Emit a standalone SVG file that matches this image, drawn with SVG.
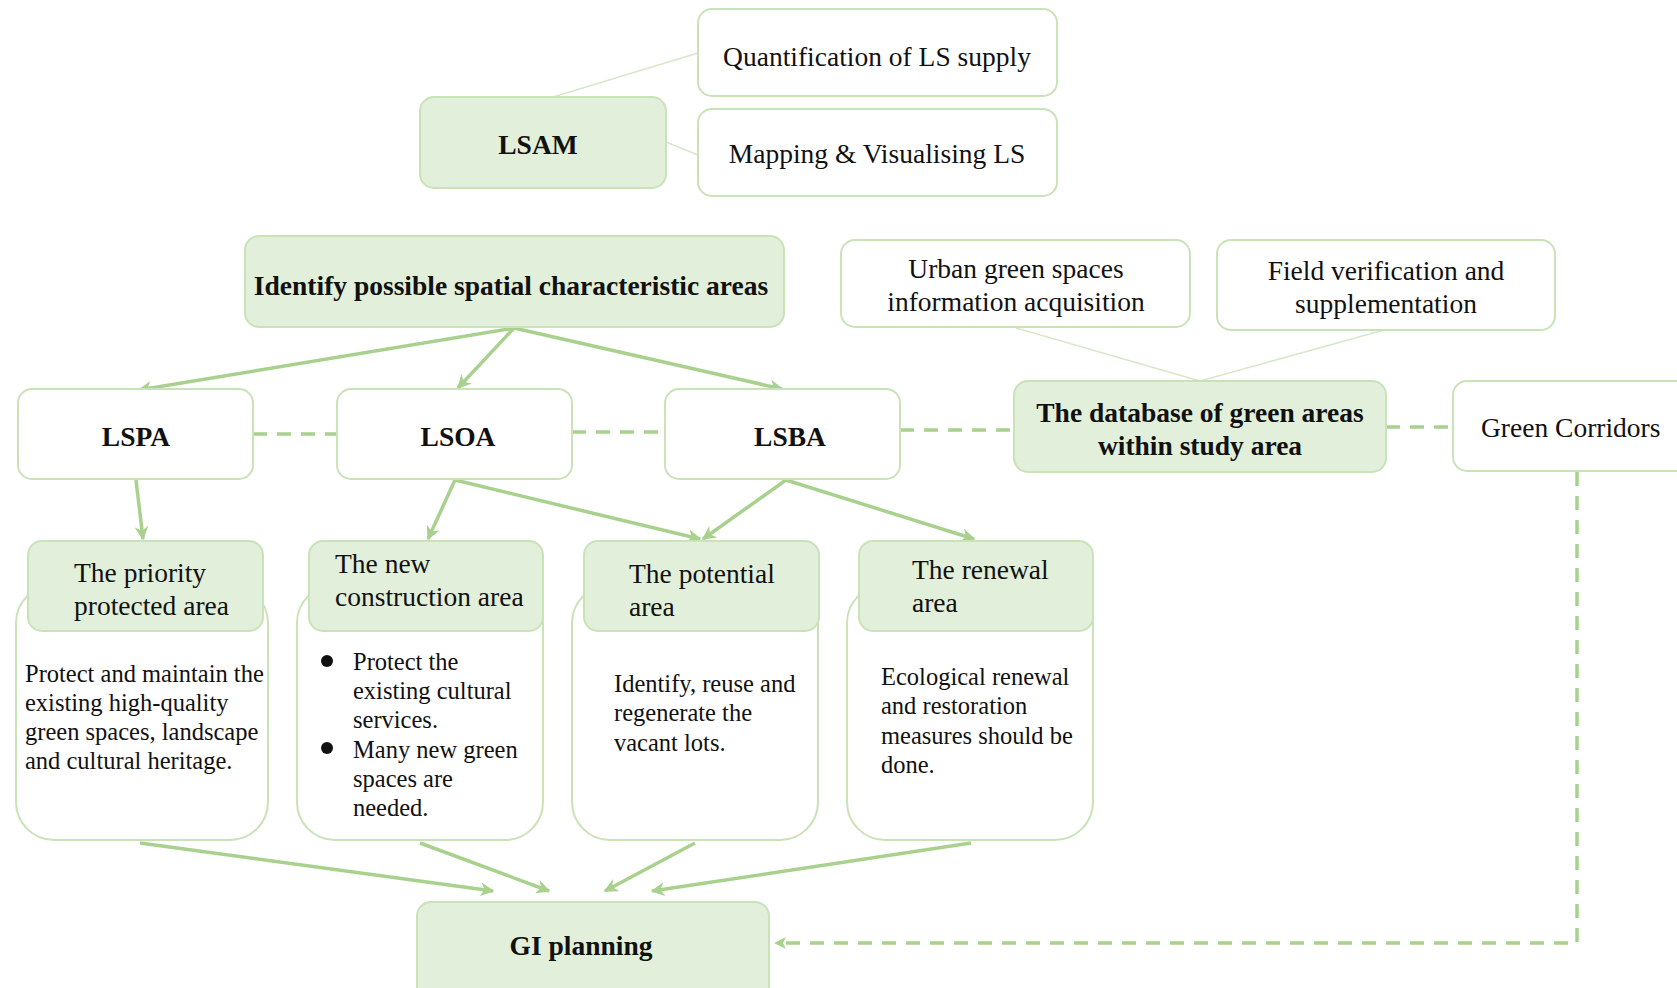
<svg xmlns="http://www.w3.org/2000/svg" width="1677" height="988" viewBox="0 0 1677 988">
<defs>
<style>
.box{fill:#ffffff;stroke:#c9e2b8;stroke-width:2}
.gbox{fill:#e2efda;stroke:#c9e2b8;stroke-width:2}
.t{font-family:"Liberation Serif","Times New Roman",serif;fill:#111;font-size:27.5px}
.b{font-weight:bold}
.c{text-anchor:middle}
.body{font-size:24.5px}
.thin{stroke:#d6e7ca;stroke-width:1.5;fill:none}
.arr{stroke:#a9d18e;stroke-width:3.5;fill:none;marker-end:url(#ah)}
.dash{stroke:#a9d18e;stroke-width:3.5;fill:none;stroke-dasharray:14 10}
</style>
<marker id="ah" viewBox="0 0 10 10" refX="9" refY="5" markerWidth="4" markerHeight="4" orient="auto" markerUnits="strokeWidth">
<path d="M0,0 L10,5 L0,10 L3,5 z" fill="#a9d18e"/>
</marker>
</defs>
<rect width="1677" height="988" fill="#ffffff"/>

<g id="connectors">
<line class="thin" x1="553" y1="97" x2="698" y2="53"/>
<line class="thin" x1="666" y1="142" x2="698" y2="155"/>
<line class="thin" x1="1016" y1="328" x2="1200" y2="381"/>
<line class="thin" x1="1384" y1="330" x2="1200" y2="381"/>
<line class="arr" x1="514" y1="328" x2="139" y2="390"/>
<line class="arr" x1="514" y1="328" x2="458" y2="388"/>
<line class="arr" x1="514" y1="328" x2="782" y2="389"/>
<line class="arr" x1="136" y1="480" x2="143" y2="539"/>
<line class="arr" x1="455" y1="480" x2="428" y2="539"/>
<line class="arr" x1="455" y1="480" x2="700" y2="539"/>
<line class="arr" x1="786" y1="480" x2="703" y2="539"/>
<line class="arr" x1="786" y1="480" x2="974" y2="539"/>
<line class="arr" x1="140" y1="843" x2="493" y2="891"/>
<line class="arr" x1="420" y1="843" x2="549" y2="891"/>
<line class="arr" x1="695" y1="843" x2="605" y2="891"/>
<line class="arr" x1="971" y1="843" x2="652" y2="891"/>
<line class="dash" x1="253" y1="434" x2="337" y2="434"/>
<line class="dash" x1="572" y1="432" x2="665" y2="432"/>
<line class="dash" x1="900" y1="430" x2="1014" y2="430"/>
<line class="dash" x1="1386" y1="427" x2="1453" y2="427"/>
<path class="dash" d="M1577,472 L1577,943 L776,943"/>
<path d="M774,943 L786,937 L783,943 L786,949 z" fill="#a9d18e"/>
</g>

<g id="quantification">
<rect class="box" x="698" y="9" width="359" height="87" rx="14"/>
<text class="t c" x="877" y="66">Quantification of LS supply</text>
</g>
<g id="mapping">
<rect class="box" x="698" y="109" width="359" height="87" rx="14"/>
<text class="t c" x="877" y="163">Mapping &amp; Visualising LS</text>
</g>
<g id="lsam">
<rect class="gbox" x="420" y="97" width="246" height="91" rx="14"/>
<text class="t b c" x="538" y="154">LSAM</text>
</g>
<g id="identify">
<rect class="gbox" x="245" y="236" width="539" height="91" rx="14"/>
<text class="t b c" x="511" y="295">Identify possible spatial characteristic areas</text>
</g>
<g id="urban">
<rect class="box" x="841" y="240" width="349" height="87" rx="14"/>
<text class="t c" x="1016" y="278">Urban green spaces</text>
<text class="t c" x="1016" y="311">information acquisition</text>
</g>
<g id="field">
<rect class="box" x="1217" y="240" width="338" height="90" rx="14"/>
<text class="t c" x="1386" y="280">Field verification and</text>
<text class="t c" x="1386" y="313">supplementation</text>
</g>
<g id="lspa">
<rect class="box" x="18" y="389" width="235" height="90" rx="14"/>
<text class="t b c" x="136" y="446">LSPA</text>
</g>
<g id="lsoa">
<rect class="box" x="337" y="389" width="235" height="90" rx="14"/>
<text class="t b c" x="458" y="446">LSOA</text>
</g>
<g id="lsba">
<rect class="box" x="665" y="389" width="235" height="90" rx="14"/>
<text class="t b c" x="790" y="446">LSBA</text>
</g>
<g id="database">
<rect class="gbox" x="1014" y="381" width="372" height="91" rx="14"/>
<text class="t b c" x="1200" y="422">The database of green areas</text>
<text class="t b c" x="1200" y="455">within study area</text>
</g>
<g id="corridors">
<rect class="box" x="1453" y="381" width="240" height="90" rx="14"/>
<text class="t" x="1481" y="437">Green Corridors</text>
</g>

<g id="priority">
<rect class="box" x="16" y="585" width="252" height="255" rx="38"/>
<rect class="gbox" x="28" y="541" width="235" height="90" rx="14"/>
<text class="t" x="74" y="582">The priority</text>
<text class="t" x="74" y="615">protected area</text>
<text class="t body" x="25" y="682">Protect and maintain the</text>
<text class="t body" x="25" y="711">existing high-quality</text>
<text class="t body" x="25" y="740">green spaces, landscape</text>
<text class="t body" x="25" y="769">and cultural heritage.</text>
</g>
<g id="newconstruction">
<rect class="box" x="297" y="585" width="246" height="255" rx="38"/>
<rect class="gbox" x="309" y="541" width="234" height="90" rx="14"/>
<text class="t" x="335" y="573">The new</text>
<text class="t" x="335" y="606">construction area</text>
<circle cx="327" cy="661" r="6" fill="#111"/>
<circle cx="327" cy="748" r="6" fill="#111"/>
<text class="t body" x="353" y="670">Protect the</text>
<text class="t body" x="353" y="699">existing cultural</text>
<text class="t body" x="353" y="728">services.</text>
<text class="t body" x="353" y="758">Many new green</text>
<text class="t body" x="353" y="787">spaces are</text>
<text class="t body" x="353" y="816">needed.</text>
</g>
<g id="potential">
<rect class="box" x="572" y="585" width="246" height="255" rx="38"/>
<rect class="gbox" x="584" y="541" width="235" height="90" rx="14"/>
<text class="t" x="629" y="583">The potential</text>
<text class="t" x="629" y="616">area</text>
<text class="t body" x="614" y="692">Identify, reuse and</text>
<text class="t body" x="614" y="721">regenerate the</text>
<text class="t body" x="614" y="751">vacant lots.</text>
</g>
<g id="renewal">
<rect class="box" x="847" y="585" width="246" height="255" rx="38"/>
<rect class="gbox" x="859" y="541" width="234" height="90" rx="14"/>
<text class="t" x="912" y="579">The renewal</text>
<text class="t" x="912" y="612">area</text>
<text class="t body" x="881" y="685">Ecological renewal</text>
<text class="t body" x="881" y="714">and restoration</text>
<text class="t body" x="881" y="744">measures should be</text>
<text class="t body" x="881" y="773">done.</text>
</g>
<g id="giplanning">
<rect class="gbox" x="417" y="902" width="352" height="100" rx="14"/>
<text class="t b c" x="581" y="955">GI planning</text>
</g>
</svg>
